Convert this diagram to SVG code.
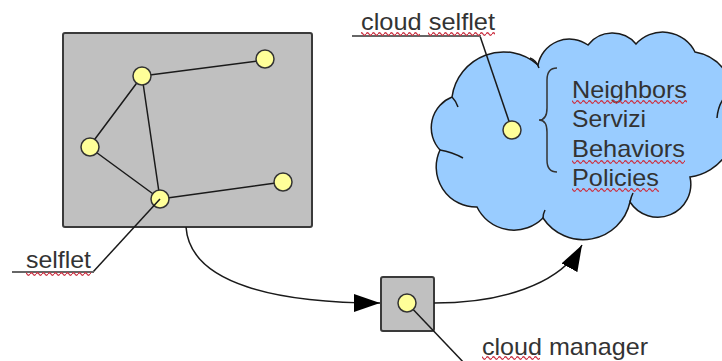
<svg xmlns="http://www.w3.org/2000/svg" width="722" height="361" viewBox="0 0 722 361">
<style>
.lbl{font-family:"Liberation Sans",Arial,sans-serif;font-size:24px;fill:#333333}
.ln{stroke:#1a1a1a;stroke-width:1.5;fill:none}
.ul{stroke:#666666;stroke-width:2;fill:none}
.dot{fill:#ffff99;stroke:#333333;stroke-width:1.5}
.box{fill:#c0c0c0;stroke:#3a3a3a;stroke-width:2}
.wave{fill:url(#wave)}
</style>
<defs>
<marker id="arr" markerUnits="userSpaceOnUse" markerWidth="26" markerHeight="18" viewBox="0 0 26 18" refX="26" refY="9" orient="auto">
<path d="M0,0 L26,9 L0,18 z" fill="#000"/>
</marker>
<pattern id="wave" width="6" height="4" patternUnits="userSpaceOnUse">
<path d="M0,2 Q1.5,-0.5 3,2 T6,2" fill="none" stroke="#cc3344" stroke-width="1.3"/>
</pattern>
</defs>

<g id="cloud">
<path d="M440,150 A33,33 0 0 1 452,97 A52,52 0 0 1 538,65 A32,32 0 0 1 588,45 A31,31 0 0 1 636,44 A36,36 0 0 1 695,52 A46,46 0 0 1 732,108 A52,52 0 0 1 690,177 A33,33 0 0 1 630,202 A48,48 0 0 1 543,218 A41,41 0 0 1 477,207 A40,40 0 0 1 440,150 Z" fill="#99ccff" stroke="#1a1a1a" stroke-width="1.5"/>
<path d="M440,150 Q452,152 463,158 M452,97 Q456,101 458,107 M530,58 Q536,60 539,68 M543,218 Q543,214 545,210 M630,202 Q631,197 633,193 M724,98 Q718,106 717,118" class="ln"/>
<path d="M557,68 Q547,68 547,80 L547,108 Q547,120 539,120 Q547,120 547,132 L547,160 Q547,172 557,172" fill="none" stroke="#333" stroke-width="1.5"/>
<text class="lbl" x="572" y="98" textLength="115" lengthAdjust="spacingAndGlyphs">Neighbors</text>
<text class="lbl" x="572" y="127" textLength="74" lengthAdjust="spacingAndGlyphs">Servizi</text>
<text class="lbl" x="572" y="157" textLength="113" lengthAdjust="spacingAndGlyphs">Behaviors</text>
<text class="lbl" x="572" y="186" textLength="87" lengthAdjust="spacingAndGlyphs">Policies</text>
<rect class="wave" x="572" y="100" width="115" height="4"/>
<rect class="wave" x="572" y="160" width="113" height="4"/>
<rect class="wave" x="572" y="188" width="87" height="4"/>
</g>

<g id="selflet-box">
<rect class="box" x="63" y="33" width="249" height="194" rx="2"/>
<path class="ln" d="M142,76 L265,60 M142,76 L89,147 M142,76 L160,199 M89,147 L160,199 M160,199 L283,182"/>
<circle class="dot" cx="142" cy="76" r="9"/>
<circle class="dot" cx="265" cy="59" r="9"/>
<circle class="dot" cx="90" cy="147" r="9"/>
<circle class="dot" cx="160" cy="199" r="9"/>
<circle class="dot" cx="283" cy="182" r="9"/>
</g>

<g id="cloud-manager">
<rect class="box" x="381" y="277" width="53" height="54" rx="2"/>
</g>

<g id="connectors">
<path class="ln" d="M186,227 C190,285 280,303 380,303" marker-end="url(#arr)"/>
<path class="ln" d="M434,303 C500,303 560,285 582,245" marker-end="url(#arr)"/>
<path class="ln" d="M480,36 L512,130"/>
<path class="ln" d="M93,272 L160,199"/>
<path class="ln" d="M407,303 L466,365"/>
</g>

<g id="cloud-selflet-dot">
<circle class="dot" cx="512" cy="130" r="9"/>
</g>
<g id="manager-dot">
<circle class="dot" cx="407" cy="303" r="9"/>
</g>

<g id="label-cloud-selflet">
<line class="ul" x1="352" y1="36" x2="481" y2="36"/>
<text class="lbl" x="361" y="30" textLength="134" lengthAdjust="spacingAndGlyphs">cloud selflet</text>
<rect class="wave" x="361" y="32" width="59" height="4"/>
<rect class="wave" x="428" y="32" width="67" height="4"/>
</g>

<g id="label-selflet">
<line class="ul" x1="12" y1="272" x2="94" y2="272"/>
<text class="lbl" x="26" y="268" textLength="65" lengthAdjust="spacingAndGlyphs">selflet</text>
<rect class="wave" x="26" y="272" width="65" height="4"/>
</g>

<g id="label-cloud-manager">
<text class="lbl" x="482" y="355" textLength="166" lengthAdjust="spacingAndGlyphs">cloud manager</text>
<rect class="wave" x="482" y="356" width="58" height="4"/>
</g>
</svg>
